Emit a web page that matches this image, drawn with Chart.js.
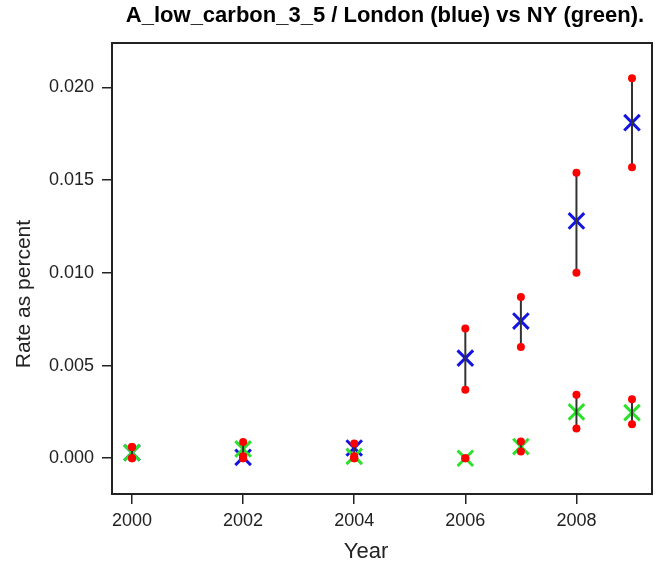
<!DOCTYPE html>
<html>
<head>
<meta charset="utf-8">
<script src="https://cdn.jsdelivr.net/npm/chart.js@4/dist/chart.umd.min.js"></script>
<style>
  html, body { margin: 0; padding: 0; background: #fff; }
</style>
</head>
<body>
<canvas id="grafico" width="655" height="566"></canvas>
<script>
// years shown on the plot
const years = [2000, 2002, 2004, 2006, 2007, 2008, 2009];

// London (blue) rate and interval ends
const londonRate = [0.0003, 0.00005, 0.00055, 0.0054, 0.0074, 0.0128, 0.0181];
const londonLow  = [0.0000, 0.0000, 0.0000, 0.0037, 0.0060, 0.0100, 0.0157];
const londonHigh = [0.0006, 0.0001, 0.0008, 0.0070, 0.0087, 0.0154, 0.0205];

// NY (green) rate and interval ends
const nyRate = [0.0003, 0.0005, 0.0001, 0.0000, 0.00063, 0.0025, 0.00246];
const nyLow  = [0.0000, 0.0000, 0.0000, 0.0000, 0.00036, 0.0016, 0.00183];
const nyHigh = [0.0006, 0.00088, 0.0001, 0.0000, 0.0009, 0.00343, 0.00318];

// tick labels
const xTicks = [2000, 2002, 2004, 2006, 2008];
const yTicks = [0, 0.005, 0.010, 0.015, 0.020];

const titleText = 'A_low_carbon_3_5 / London (blue) vs NY (green).';
const xLabel = 'Year';
const yLabel = 'Rate as percent';

const fontFamily = '"Liberation Sans", Arial, Helvetica, sans-serif';
const axisColor = '#222';

// one small line dataset per interval
function intervalSets(rate, low, high) {
    return years.map((year, i) => ({
        type: 'line',
        data: [{ x: year, y: low[i] }, { x: year, y: high[i] }],
        borderColor: '#333',
        borderWidth: 2,
        pointRadius: 0,
        showLine: true,
        fill: false
    }));
}

function points(values) {
    return years.map((year, i) => ({ x: year, y: values[i] }));
}

// red dots at both ends of every interval
const redDots = points(londonLow).concat(points(londonHigh), points(nyLow), points(nyHigh));

// box, title and axis labels
const frame = {
    id: 'frame',
    beforeDatasetsDraw(chart) {
        const a = chart.chartArea;
        const ctx = chart.ctx;
        ctx.save();
        ctx.strokeStyle = axisColor;
        ctx.lineWidth = 2;
        ctx.strokeRect(a.left, a.top, a.right - a.left, a.bottom - a.top);
        ctx.restore();
    },
    afterDraw(chart) {
        const ctx = chart.ctx;
        ctx.save();
        ctx.fillStyle = '#000';
        ctx.textAlign = 'center';
        ctx.textBaseline = 'middle';
        ctx.font = 'bold 22px ' + fontFamily;
        ctx.fillText(titleText, 385, 16);
        ctx.fillStyle = axisColor;
        ctx.font = '22px ' + fontFamily;
        ctx.fillText(xLabel, 366, 552);
        ctx.font = '21px ' + fontFamily;
        ctx.translate(24, 294);
        ctx.rotate(-Math.PI / 2);
        ctx.fillText(yLabel, 0, 0);
        ctx.restore();
    }
};

const ctx = document.getElementById('grafico');
new Chart(ctx, {
    type: 'scatter',
    data: {
        datasets: [
            { data: redDots, pointStyle: 'circle', pointRadius: 4, backgroundColor: '#f00', borderColor: '#f00', borderWidth: 0 },
            ...intervalSets(nyRate, nyLow, nyHigh),
            ...intervalSets(londonRate, londonLow, londonHigh),
            { data: points(nyRate), pointStyle: 'crossRot', pointRadius: 11, borderColor: '#2ee02e', borderWidth: 3 },
            { data: points(londonRate), pointStyle: 'crossRot', pointRadius: 11, borderColor: '#1414e0', borderWidth: 3 }
        ]
    },
    options: {
        responsive: false,
        animation: false,
        events: [],
        layout: { autoPadding: false, padding: { top: 43, right: 3, left: 0, bottom: 0 } },
        plugins: { legend: { display: false }, tooltip: { enabled: false }, title: { display: false } },
        scales: {
            x: {
                type: 'linear',
                min: 1999.64,
                max: 2009.36,
                afterBuildTicks: s => { s.ticks = xTicks.map(v => ({ value: v })); },
                afterFit: s => { s.height = 72; s.paddingLeft = 0; s.paddingRight = 0; },
                ticks: { callback: v => String(v), color: axisColor, font: { size: 18, family: fontFamily }, padding: 6, maxRotation: 0 },
                grid: { drawOnChartArea: false, drawTicks: true, tickLength: 10, color: axisColor, lineWidth: 1.5 },
                border: { display: false }
            },
            y: {
                min: -0.00193,
                max: 0.0224,
                afterBuildTicks: s => { s.ticks = yTicks.map(v => ({ value: v })); },
                afterFit: s => { s.width = 112; s.paddingTop = 0; s.paddingBottom = 0; },
                ticks: { callback: v => v.toFixed(3), color: axisColor, font: { size: 18, family: fontFamily }, padding: 8 },
                grid: { drawOnChartArea: false, drawTicks: true, tickLength: 10, color: axisColor, lineWidth: 1.5 },
                border: { display: false }
            }
        }
    },
    plugins: [frame]
});
</script>
</body>
</html>
